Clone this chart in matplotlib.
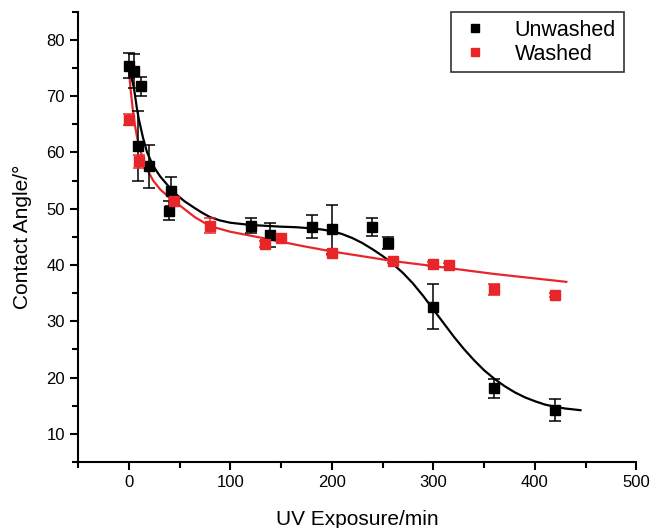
import matplotlib
matplotlib.use('Agg')
import matplotlib.pyplot as plt
from matplotlib.ticker import MultipleLocator

plt.rcParams['font.family'] = ['Liberation Sans', 'DejaVu Sans']

# measured points, unwashed
unw_x = [0, 5, 12, 9, 20, 42, 40, 120, 139, 180, 200, 240, 255, 300, 360, 420]
unw_y = [75.4, 74.5, 71.7, 61.2, 57.5, 53.1, 49.6, 47.0, 45.3, 46.8, 46.3, 46.8, 43.9, 32.6, 18.1, 14.2]
unw_err = [2.2, 3.0, 1.6, 6.2, 3.8, 2.6, 1.7, 1.4, 2.1, 2.1, 4.3, 1.6, 1.15, 4.0, 1.7, 2.0]

# measured points, washed
was_x = [0, 10, 45, 80, 134, 150, 200, 260, 300, 315, 360, 420]
was_y = [65.8, 58.4, 51.3, 47.0, 43.7, 44.7, 42.2, 40.7, 40.2, 40.0, 35.7, 34.7]
was_err = [1.0, 1.2, 0.5, 1.3, 0.5, 0.4, 0.4, 0.4, 0.4, 0.4, 1.0, 0.4]

# fitted curves
fit_unw_x = [0, 2, 5, 8, 10, 14, 18, 24, 31, 40, 47, 55, 65, 72, 80, 90, 100, 110, 120,
             135, 150, 165, 180, 190, 200, 210, 220, 230, 240, 250, 260, 270, 280, 290,
             300, 310, 320, 330, 340, 350, 360, 370, 380, 390, 400, 410, 420, 430, 445]
fit_unw_y = [75.7, 73.8, 71.5, 67.8, 65.8, 62.6, 60.0, 57.6, 55.7, 53.8, 52.5, 51.3, 50.1,
             49.3, 48.5, 47.9, 47.5, 47.3, 47.1, 46.95, 46.8, 46.7, 46.5, 46.3, 46.0, 45.5,
             44.8, 43.9, 42.8, 41.6, 40.2, 38.6, 36.7, 34.5, 32.1, 29.7, 27.3, 25.1, 23.1,
             21.3, 19.8, 18.5, 17.4, 16.5, 15.8, 15.2, 14.8, 14.5, 14.2]

fit_was_x = [0, 2, 4, 6, 8, 11, 14, 18, 24, 31, 38, 45, 55, 65, 80, 100, 120, 140, 170,
             200, 260, 300, 360, 431]
fit_was_y = [74.8, 70.8, 67.5, 64.9, 62.8, 60.5, 58.8, 57.0, 55.0, 53.4, 52.3, 51.3, 49.9,
             48.5, 46.9, 45.9, 45.2, 44.5, 43.4, 42.4, 40.7, 39.8, 38.4, 37.0]

red = '#e8262a'

fig = plt.figure(figsize=(6.53, 5.28), dpi=100)
ax = fig.add_axes([0.1195, 0.125, 0.855, 0.853])

ax.plot(fit_unw_x, fit_unw_y, color='black', linewidth=1.6, zorder=2)
ax.plot(fit_was_x, fit_was_y, color=red, linewidth=1.6, zorder=2)

ax.errorbar(unw_x, unw_y, yerr=unw_err, fmt='s', color='black', markersize=7,
            ecolor='black', elinewidth=1.1, capsize=4, capthick=1.1, label='Unwashed', zorder=3)
ax.errorbar(was_x, was_y, yerr=was_err, fmt='s', color=red, markersize=7,
            ecolor=red, elinewidth=1.1, capsize=4, capthick=1.1, label='Washed', zorder=3)

ax.set_xlim(-50, 500)
ax.set_ylim(5, 85)
ax.xaxis.set_major_locator(MultipleLocator(100))
ax.xaxis.set_minor_locator(MultipleLocator(50))
ax.yaxis.set_major_locator(MultipleLocator(10))
ax.yaxis.set_minor_locator(MultipleLocator(5))
ax.set_yticks(range(10, 81, 10))

for s in ['top', 'right']:
    ax.spines[s].set_visible(False)
for s in ['left', 'bottom']:
    ax.spines[s].set_linewidth(1.5)

ax.tick_params(which='major', direction='out', length=6, width=1.5, labelsize=12)
ax.tick_params(which='minor', direction='out', length=4, width=1.5)

ax.set_xlabel('UV Exposure/min', fontsize=15, labelpad=14)
ax.set_ylabel('Contact Angle/°', fontsize=15, labelpad=10)

handles, labels = ax.get_legend_handles_labels()
handles = [h[0] for h in handles]
leg = ax.legend(handles, labels, loc='upper right', bbox_to_anchor=(0.977, 0.999),
                borderaxespad=0, fontsize=15.5, frameon=True, fancybox=False,
                markerscale=0.85, handlelength=1.5, handletextpad=1.1, borderpad=0.35,
                labelspacing=0.15)
leg.get_frame().set_edgecolor('black')
leg.get_frame().set_linewidth(1.2)

fig.savefig('out.png', dpi=100)
